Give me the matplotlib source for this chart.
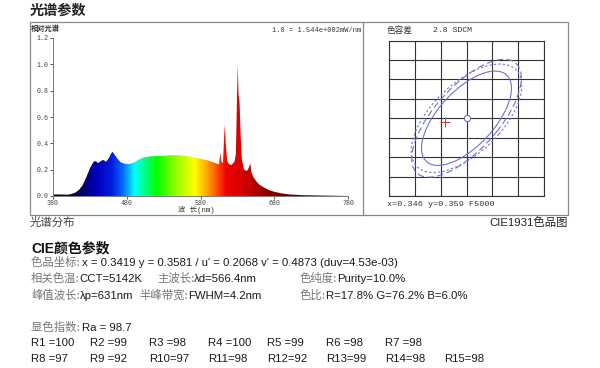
import numpy as np
import matplotlib.pyplot as plt
from matplotlib.colors import LinearSegmentedColormap
from matplotlib.patches import Rectangle, Ellipse
from matplotlib.lines import Line2D
from matplotlib.offsetbox import TextArea, HPacker, AnnotationBbox

# 光谱数据 (相对光谱, 读自原图)
wavelength = [380, 390, 400, 405, 410, 415, 420, 425, 430, 435, 438, 441, 445, 448,
              452, 456, 459, 461, 464, 468, 472, 478, 484, 490, 496, 502, 510, 520,
              530, 540, 550, 560, 570, 580, 590, 600, 605, 607, 608.5, 610.5, 612,
              613, 614, 616, 618, 622, 626, 628, 629.5, 630.5, 631.5, 633, 634.5,
              636, 639, 643, 646, 647.5, 649, 652, 656, 660, 666, 673, 680, 690,
              700, 720, 750, 780]
relative = [0.012, 0.012, 0.010, 0.015, 0.025, 0.045, 0.08, 0.14, 0.21, 0.26, 0.265,
            0.25, 0.265, 0.275, 0.26, 0.29, 0.325, 0.335, 0.31, 0.28, 0.255, 0.245,
            0.243, 0.255, 0.275, 0.292, 0.30, 0.303, 0.305, 0.31, 0.31, 0.305, 0.295,
            0.283, 0.27, 0.25, 0.24, 0.33, 0.26, 0.25, 0.45, 0.54, 0.42, 0.27, 0.245,
            0.235, 0.26, 0.32, 0.75, 1.0, 0.78, 0.70, 0.45, 0.28, 0.2, 0.19, 0.22,
            0.25, 0.18, 0.14, 0.11, 0.085, 0.065, 0.045, 0.032, 0.02, 0.012, 0.006,
            0.003, 0.0]
x_ticks = [380, 480, 580, 680, 780]
y_ticks = [0.0, 0.2, 0.4, 0.6, 0.8, 1.0, 1.2]

# 色容差 (F5000 目标点, 测量点, 椭圆: 长轴, 短轴, 角度)
target_x, target_y = 0.346, 0.359
meas_x, meas_y = 0.3419, 0.3581
grid_step = 0.005
ellipse_major = [0.0137, 0.0172, 0.0159]
ellipse_minor = [0.00595, 0.0068, 0.0075]
ellipse_angle = [59, 59, 57]

# CIE 参数
u_p, v_p, duv = 0.2068, 0.4873, "4.53e-03"
cct, dom_wl, purity = 5142, 566.4, 10.0
peak_wl, fwhm = 631, 4.2
ratio_r, ratio_g, ratio_b = 17.8, 76.2, 6.0
ra = 98.7
cri_names = ["R1", "R2", "R3", "R4", "R5", "R6", "R7", "R8",
             "R9", "R10", "R11", "R12", "R13", "R14", "R15"]
cri_values = [100, 99, 98, 100, 99, 98, 98, 97, 92, 97, 98, 92, 99, 98, 98]

plt.rcParams['font.family'] = ['Liberation Sans', 'Noto Sans CJK SC']
MONO = ['Liberation Mono', 'Noto Sans CJK SC']
CJK = ['Noto Sans CJK SC', 'Liberation Sans']
GRAY = '#777777'
DARK = '#1a1a1a'

W, H = 600, 368
fig = plt.figure(figsize=(6, 3.68), dpi=100)


def fx(x):
    return x / W


def fy(y):
    return 1 - y / H


def txt(x, y, s, **kw):
    kw.setdefault('va', 'center')
    kw.setdefault('ha', 'left')
    fig.text(fx(x), fy(y), s, **kw)


def rich(x, y, parts, size=8.2):
    # 中文部分灰色, 其余深色, 按基线对齐
    boxes = []
    for s, is_cjk in parts:
        props = dict(fontsize=size, color=GRAY if is_cjk else DARK,
                     family=CJK if is_cjk else ['Liberation Sans', 'Noto Sans CJK SC'])
        boxes.append(TextArea(s, textprops=props))
    pack = HPacker(children=boxes, align='baseline', pad=0, sep=0)
    ab = AnnotationBbox(pack, (fx(x), fy(y)), xycoords='figure fraction',
                        box_alignment=(0, 0.5), frameon=False, pad=0)
    fig.add_artist(ab)


# 外框
fig.add_artist(Rectangle((fx(30), fy(215)), fx(568) - fx(30), fy(22) - fy(215),
                         transform=fig.transFigure, fill=False, ec='#8a8a8a', lw=0.9))
fig.add_artist(Line2D([fx(363), fx(363)], [fy(22), fy(215)],
                      transform=fig.transFigure, color='#8a8a8a', lw=0.9))

# 光谱图
ax = fig.add_axes([fx(53), fy(196), fx(348) - fx(53), fy(38) - fy(196)])
anchors = [(380, '#1a0a1a'), (405, '#0a0530'), (420, '#000070'), (440, '#0000c0'),
           (460, '#0020e0'), (475, '#0070ff'), (490, '#00ffff'), (505, '#00ff80'),
           (520, '#00ff00'), (545, '#90ff00'), (572, '#ffff00'), (590, '#ffa000'),
           (605, '#ff4000'), (615, '#f00000'), (640, '#d00000'), (670, '#900000'),
           (700, '#600000'), (780, '#400000')]
cmap = LinearSegmentedColormap.from_list('spec', [((w - 380) / 400, c) for w, c in anchors])
grad = np.linspace(380, 780, 801).reshape(1, -1)
im = ax.imshow(grad, extent=[380, 780, 0, 1.2], aspect='auto', cmap=cmap,
               vmin=380, vmax=780, origin='lower', zorder=2)
poly = ax.fill_between(wavelength, relative, color='none', lw=0)
im.set_clip_path(poly.get_paths()[0], transform=ax.transData)
ax.set_xlim(380, 780)
ax.set_ylim(0, 1.2)
ax.set_xticks(x_ticks)
ax.set_xticklabels([str(t) for t in x_ticks])
ax.set_yticks(y_ticks)
ax.set_yticklabels([f"{t:.1f}" for t in y_ticks])
ax.tick_params(direction='out', length=2, width=0.6, colors='#444', labelsize=4.8, pad=1)
for lab in ax.get_xticklabels() + ax.get_yticklabels():
    lab.set_family(MONO)
for s in ['top', 'right']:
    ax.spines[s].set_visible(False)
for s in ['left', 'bottom']:
    ax.spines[s].set_color('#777')
    ax.spines[s].set_linewidth(0.7)
ax.patch.set_alpha(0)

txt(31, 28, "相对光谱", fontsize=5.2, family=CJK, weight='bold', color='#333')
txt(361, 31, "1.0 = 1.544e+002mW/nm", fontsize=5.0, family=MONO, ha='right', color='#333')
txt(178, 210, "波 长(nm)", fontsize=5.3, family=MONO, color='#333')

# CIE 色容差图
ax2 = fig.add_axes([fx(389), fy(196), fx(544) - fx(389), fy(40.5) - fy(196)])
ax2.set_xlim(target_x - 3 * grid_step, target_x + 3 * grid_step)
ax2.set_ylim(target_y - 4 * grid_step, target_y + 4 * grid_step)
ax2.set_xticks(np.linspace(target_x - 3 * grid_step, target_x + 3 * grid_step, 7))
ax2.set_yticks(np.linspace(target_y - 4 * grid_step, target_y + 4 * grid_step, 9))
ax2.tick_params(length=0, labelbottom=False, labelleft=False)
ax2.grid(True, color='#333', lw=0.8)
for s in ax2.spines.values():
    s.set_color('#333')
    s.set_linewidth(0.8)
styles = ['-', (0, (6, 3)), (0, (2, 2))]
for a, b, ang, ls in zip(ellipse_major, ellipse_minor, ellipse_angle, styles):
    ax2.add_patch(Ellipse((target_x, target_y), 2 * a, 2 * b, angle=ang,
                          fill=False, ec='#7070d8', lw=0.8, ls=ls, zorder=3))
ax2.plot([target_x], [target_y], 'o', ms=4.5, mfc='white', mec='#6b6bd6', mew=0.8, zorder=4)
ax2.plot([meas_x], [meas_y], '+', ms=7, color='#e03030', mew=0.7, zorder=4)

txt(387, 30, "色容差", fontsize=6.2, family=CJK, color='#333')
txt(433, 30, "2.8 SDCM", fontsize=5.9, family=MONO, color='#333')
txt(387, 205, f"x={target_x:.3f} y={target_y:.3f} F5000", fontsize=6.1, family=MONO, color='#333')

# 标题及说明
txt(30, 11, "光谱参数", fontsize=10.2, family=CJK, weight='bold', color='#222')
txt(30, 222, "光谱分布", fontsize=8.2, family=CJK, color='#444')
txt(568, 222, "CIE1931色品图", fontsize=8.2, ha='right', color='#222')

txt(31, 248, "CIE颜色参数", fontsize=10, weight='bold', color='#111')
rich(31, 262, [("色品坐标: ", True),
               (f"x = {meas_x:.4f} y = {meas_y:.4f} / u' = {u_p:.4f} v' = {v_p:.4f} (duv={duv})", False)])
rich(31, 278, [("相关色温:", True), (f"CCT={cct}K", False)])
rich(157, 278, [("主波长:", True), (f"λd={dom_wl:.1f}nm", False)])
rich(300, 278, [("色纯度:", True), (f"Purity={purity:.1f}%", False)])
rich(31, 295, [("峰值波长:", True), (f"λp={peak_wl}nm", False)])
rich(139, 295, [("半峰带宽:", True), (f"FWHM={fwhm:.1f}nm", False)])
rich(300, 295, [("色比:", True), (f"R={ratio_r:.1f}% G={ratio_g:.1f}% B={ratio_b:.1f}%", False)])

rich(31, 327, [("显色指数: ", True), (f"Ra = {ra}", False)])
for i, (name, val) in enumerate(zip(cri_names, cri_values)):
    row = 0 if i < 7 else 1
    col = i if i < 7 else i - 7
    label = f"{name} ={val}" if len(name) == 2 else f"{name}={val}"
    txt(31 + col * 59, 343 + row * 16.5, label, fontsize=8.2, color=DARK)

fig.savefig('out.png', dpi=100)
